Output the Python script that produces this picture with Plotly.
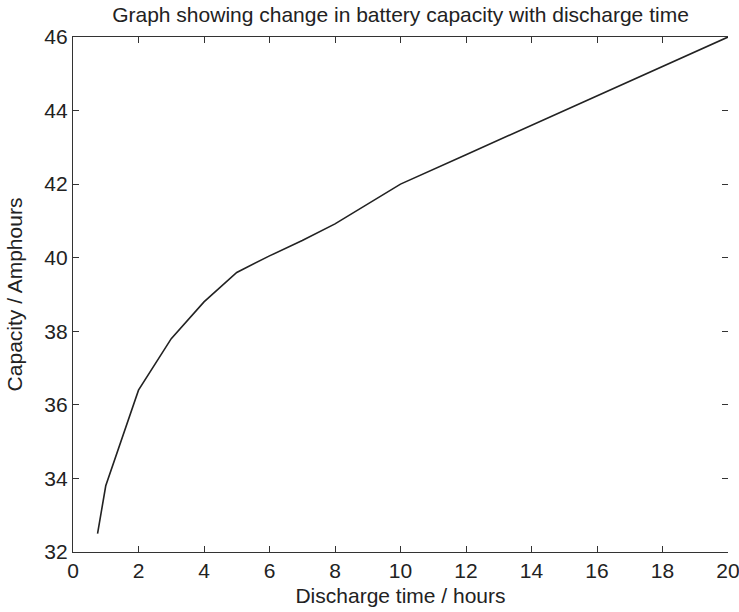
import plotly.graph_objects as go

hours = [0.75, 1, 2, 3, 4, 5, 6, 7, 8, 9, 10, 12, 14, 16, 18, 20]
capacity = [32.5, 33.8, 36.4, 37.8, 38.8, 39.6, 40.05, 40.47, 40.92, 41.45, 42.0, 42.8, 43.6, 44.4, 45.2, 46.0]
x_ticks = [0, 2, 4, 6, 8, 10, 12, 14, 16, 18, 20]
y_ticks = [32, 34, 36, 38, 40, 42, 44, 46]

font = "Liberation Sans, Arial, Helvetica, sans-serif"
axc = "#333333"

fig = go.Figure()
fig.add_trace(go.Scatter(x=hours, y=capacity, mode="lines",
                         line=dict(color="#222222", width=1.6), showlegend=False))
# invisible trace for right-side ticks
fig.add_trace(go.Scatter(x=hours, y=capacity, mode="lines", yaxis="y2",
                         line=dict(width=0), opacity=0, showlegend=False, hoverinfo="skip"))

fig.update_layout(
    width=739, height=612,
    margin=dict(l=73, r=11, t=37, b=60, autoexpand=False),
    paper_bgcolor="white", plot_bgcolor="white",
    font=dict(family=font, color="#222222", size=21),
    title=dict(text="Graph showing change in battery capacity with discharge time",
               x=0.5, xref="paper", y=0.976, yref="container", xanchor="center", yanchor="middle",
               font=dict(size=21, family=font, color="#222222")),
    xaxis=dict(range=[0, 20], tickvals=x_ticks, ticks="inside", ticklen=6, tickcolor=axc,
               showline=True, linecolor=axc, linewidth=1.3, mirror="ticks", automargin=False,
               ticklabeloverflow="allow",
               showgrid=False, zeroline=False, tickfont=dict(size=21),
               title=dict(text="Discharge time / hours", standoff=6, font=dict(size=21))),
    yaxis=dict(range=[32, 46], tickvals=y_ticks, ticks="inside", ticklen=6, tickcolor=axc,
               showline=True, linecolor=axc, linewidth=1.3, mirror=False, automargin=False,
               ticklabeloverflow="allow",
               showgrid=False, zeroline=False, tickfont=dict(size=21),
               title=dict(text="Capacity / Amphours", standoff=15, font=dict(size=21))),
    yaxis2=dict(range=[32, 46], tickvals=y_ticks, ticks="inside", ticklen=6, tickcolor=axc,
                overlaying="y", side="right", showline=False, showgrid=False, zeroline=False,
                showticklabels=False, automargin=False),
)

fig.write_html("out.html", config={"displayModeBar": False},
               post_script="document.body.style.margin='0';document.body.style.overflow='hidden';")
